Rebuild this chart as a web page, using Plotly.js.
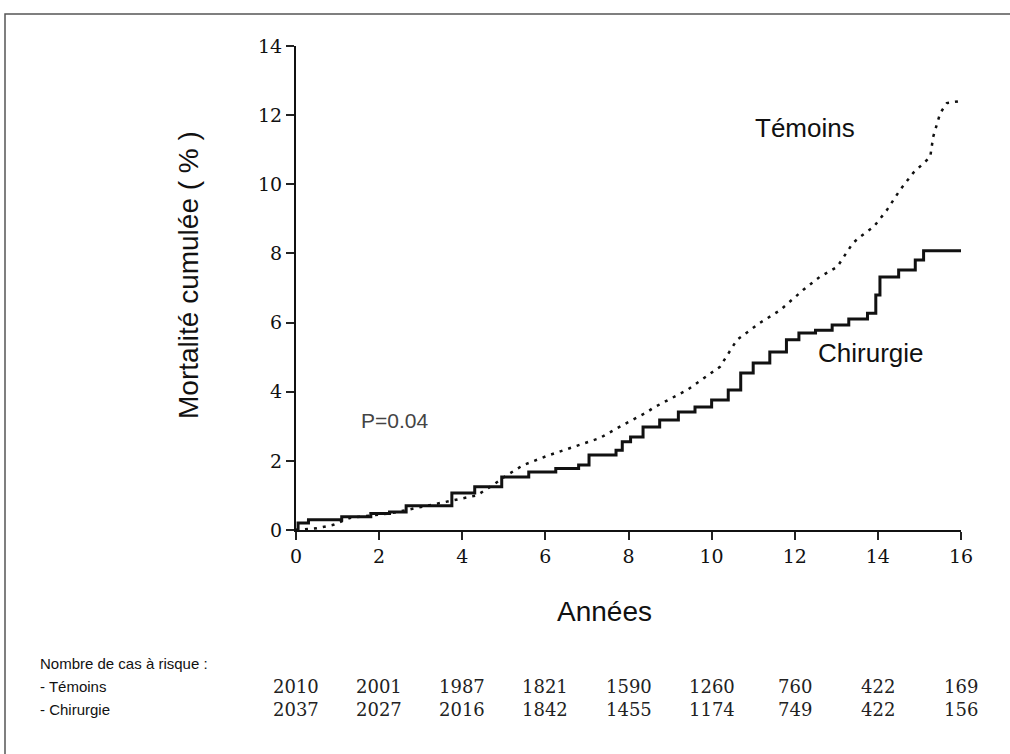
<!DOCTYPE html>
<html>
<head>
<meta charset="utf-8">
<script src="https://cdn.plot.ly/plotly-3.0.1.min.js"></script>
<style>
  html, body { margin: 0; padding: 0; background: #fff; }
  #chart { width: 1010px; height: 754px; }
</style>
</head>
<body>
<div id="chart"></div>
<script>
// Chirurgie (solid, step)
const chirX = [0, 0.05, 0.3, 1.1, 1.8, 2.25, 2.65, 3.75, 4.3, 4.95, 5.6, 6.25, 6.8, 7.05, 7.7, 7.85, 8.05, 8.35, 8.75, 9.2, 9.6, 10.0, 10.4, 10.7, 11.0, 11.4, 11.8, 12.1, 12.5, 12.9, 13.3, 13.75, 13.95, 14.05, 14.5, 14.9, 15.1, 16.05];
const chirY = [0, 0.2, 0.3, 0.38, 0.48, 0.52, 0.7, 1.07, 1.25, 1.53, 1.68, 1.78, 1.88, 2.17, 2.31, 2.55, 2.69, 2.98, 3.18, 3.41, 3.56, 3.76, 4.05, 4.54, 4.83, 5.15, 5.5, 5.7, 5.78, 5.93, 6.1, 6.27, 6.8, 7.32, 7.52, 7.81, 8.08, 8.08];

// Témoins (dotted)
const temX = [0, 0.5, 0.9, 1.3, 2.26, 2.9, 3.47, 4.35, 4.74, 5.08, 5.47, 6.03, 6.67, 7.31, 7.87, 8.45, 8.59, 9.41, 10.2, 10.61, 11.16, 11.65, 12.2, 12.6, 13.02, 13.4, 13.57, 13.9, 14.22, 14.53, 14.85, 15.26, 15.33, 15.5, 15.66, 16.05];
const temY = [0, 0.05, 0.15, 0.35, 0.48, 0.64, 0.77, 1.0, 1.3, 1.59, 1.88, 2.14, 2.4, 2.66, 3.04, 3.41, 3.53, 4.05, 4.72, 5.5, 5.99, 6.36, 6.94, 7.32, 7.61, 8.3, 8.48, 8.77, 9.26, 9.83, 10.33, 10.79, 11.37, 12.06, 12.35, 12.42];

// Tick labels
const xTicks = [0, 2, 4, 6, 8, 10, 12, 14, 16];
const yTicks = [0, 2, 4, 6, 8, 10, 12, 14];

// Number at risk
const riskYears = [0, 2, 4, 6, 8, 10, 12, 14, 16];
const riskTemoins = [2010, 2001, 1987, 1821, 1590, 1260, 760, 422, 169];
const riskChirurgie = [2037, 2027, 2016, 1842, 1455, 1174, 749, 422, 156];

const L = 296, R = 49, T = 46, B = 224;
const W = 1010, H = 754;
const pw = W - L - R, ph = H - T - B;
const px2paper = px => (px - L) / pw;
const py2paper = py => (H - B - py) / ph;

const sans = "Liberation Sans, Arial, sans-serif";
const serif = "DejaVu Serif, Liberation Serif, serif";

const traces = [
  { x: temX, y: temY, type: 'scatter', mode: 'lines', line: { color: '#111', width: 2.5, dash: '3px,6px' }, cliponaxis: false, hoverinfo: 'skip' },
  { x: chirX, y: chirY, type: 'scatter', mode: 'lines', line: { color: '#111', width: 3, shape: 'hv' }, cliponaxis: false, hoverinfo: 'skip' }
];

const C = { xanchor: 'center', yanchor: 'middle', showarrow: false };
const annotations = [
  Object.assign({ x: 12.25, y: 11.63, xref: 'x', yref: 'y', text: 'Témoins', font: { family: sans, size: 26, color: '#111' } }, C),
  Object.assign({ x: 13.84, y: 5.12, xref: 'x', yref: 'y', text: 'Chirurgie', font: { family: sans, size: 26, color: '#111' } }, C),
  Object.assign({ x: 2.38, y: 3.18, xref: 'x', yref: 'y', text: 'P=0.04', font: { family: sans, size: 21, color: '#444' } }, C),
  Object.assign({ x: px2paper(604), y: py2paper(611), xref: 'paper', yref: 'paper', text: 'Années', font: { family: sans, size: 28, color: '#111' } }, C),
  Object.assign({ x: px2paper(188), y: py2paper(275), xref: 'paper', yref: 'paper', text: 'Mortalité cumulée ( % )', textangle: -90, font: { family: sans, size: 28, color: '#111' } }, C),
  { x: px2paper(38), y: py2paper(663), xref: 'paper', yref: 'paper', xanchor: 'left', yanchor: 'middle', showarrow: false, text: 'Nombre de cas à risque :', font: { family: sans, size: 15, color: '#111' } },
  { x: px2paper(38), y: py2paper(686), xref: 'paper', yref: 'paper', xanchor: 'left', yanchor: 'middle', showarrow: false, text: '- Témoins', font: { family: sans, size: 15, color: '#111' } },
  { x: px2paper(38), y: py2paper(709), xref: 'paper', yref: 'paper', xanchor: 'left', yanchor: 'middle', showarrow: false, text: '- Chirurgie', font: { family: sans, size: 15, color: '#111' } }
];
riskYears.forEach((yr, i) => {
  annotations.push(Object.assign({ x: yr, y: py2paper(686), xref: 'x', yref: 'paper', text: String(riskTemoins[i]), font: { family: serif, size: 18, color: '#222' } }, C));
  annotations.push(Object.assign({ x: yr, y: py2paper(709), xref: 'x', yref: 'paper', text: String(riskChirurgie[i]), font: { family: serif, size: 18, color: '#222' } }, C));
});

const layout = {
  width: W, height: H,
  margin: { l: L, r: R, t: T, b: B, pad: 0 },
  paper_bgcolor: '#fff', plot_bgcolor: '#fff',
  showlegend: false,
  xaxis: {
    range: [0, 16], tickvals: xTicks, ticktext: xTicks.map(String),
    showgrid: false, zeroline: false, showline: true, linecolor: '#111', linewidth: 2,
    ticks: 'outside', ticklen: 8, tickwidth: 2, tickcolor: '#222',
    tickfont: { family: serif, size: 19, color: '#111' }, fixedrange: true
  },
  yaxis: {
    range: [0, 14], tickvals: yTicks, ticktext: yTicks.map(String),
    showgrid: false, zeroline: false, showline: true, linecolor: '#111', linewidth: 2,
    ticks: 'outside', ticklen: 8, tickwidth: 2, tickcolor: '#222',
    tickfont: { family: serif, size: 19, color: '#111' }, fixedrange: true
  },
  annotations: annotations,
  shapes: [
    { type: 'rect', xref: 'paper', yref: 'paper', x0: px2paper(5), x1: px2paper(1030), y0: py2paper(780), y1: py2paper(14), line: { color: '#555', width: 1.5 } }
  ]
};

Plotly.newPlot('chart', traces, layout, { displayModeBar: false, staticPlot: true });
</script>
</body>
</html>
